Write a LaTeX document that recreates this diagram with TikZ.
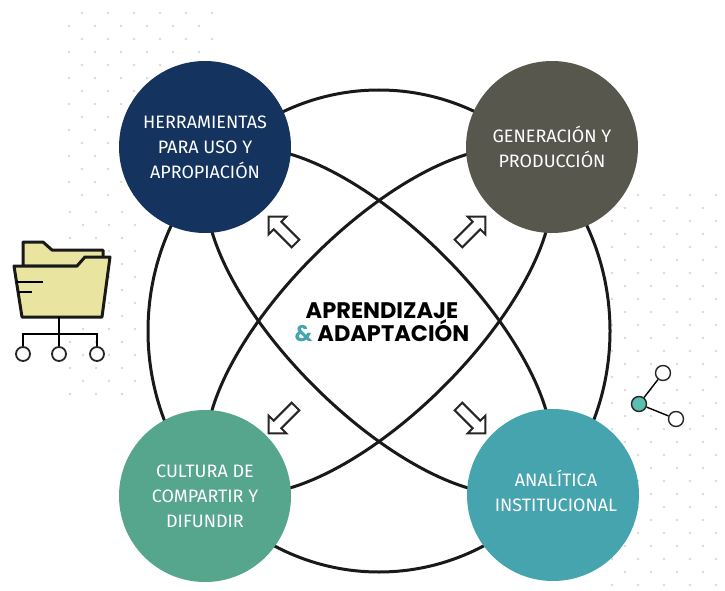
\documentclass[tikz,border=0pt]{standalone}
\usepackage{fontspec}
\setmainfont{Fira Sans}
\newfontfamily\titlefont{Poppins}
\usetikzlibrary{shapes,arrows}
\definecolor{navy}{HTML}{14335F}
\definecolor{olive}{HTML}{57574D}
\definecolor{jade}{HTML}{56A58D}
\definecolor{lagoon}{HTML}{45A4AE}
\definecolor{folderfill}{HTML}{E9E5A0}
\definecolor{hubfill}{HTML}{5ABFB0}
\definecolor{dotgray}{HTML}{D9D9D6}
\tikzset{
	area/.style={circle,minimum size=172,inner sep=0,text=white,align=center,font=\fontsize{18}{25}\selectfont},
	arealabel/.style={text=white,align=center,font=\fontsize{18}{25}\selectfont},
	ring/.style={line width=3pt,draw=black!90},
	hint/.style={single arrow,draw=black!85,fill=white,line width=2pt,minimum height=38,minimum width=25,single arrow head extend=5.5,inner sep=3.2},
	outline/.style={line width=3pt,draw=black!90,line join=round},
	leaf/.style={circle,draw=black!85,fill=white,line width=1.8pt,minimum size=14,inner sep=0},
	pin/.style={circle,draw=black!85,fill=white,line width=1.4pt,minimum size=15,inner sep=0},
	speck/.style={fill=dotgray}
}
\begin{document}
\begin{tikzpicture}[x=1pt,y=1pt]
	\useasboundingbox (0,0) rectangle (725,-591);

	% dots behind everything
	\foreach \row in {0,...,14}
		\foreach \col in {0,...,5}
			\fill[speck] ({82+\col*26+mod(\row,2)*(-13)},{-13-\row*13}) circle (1.3);
	\foreach \row in {0,...,14}
		\foreach \col in {0,...,2}
			\fill[speck] ({70+\col*26+mod(\row,2)*13},{-212-\row*13}) circle (1.3);
	\foreach \row in {0,...,30}
		\foreach \col in {0,...,4}
			\fill[speck] ({612+\col*26+mod(\row,2)*13},{-195-\row*13}) circle (1.3);

	% center point of the rings
	\coordinate (middle) at (379,-321);
	\draw[ring] (379,-331) ellipse (231 and 241);
	\draw[ring,rotate around={-45:(middle)}] (middle) ellipse (226 and 92);
	\draw[ring,rotate around={45:(middle)}] (middle) ellipse (226 and 92);

	\node[area,fill=navy] (tools) at (205,-147) {HERRAMIENTAS\\PARA USO Y\\APROPIACIÓN};
	\node[area,fill=olive] (production) at (552,-147) {GENERACIÓN Y\\PRODUCCIÓN};
	\node[area,fill=jade] (culture) at (205,-496) {CULTURA DE\\COMPARTIR Y\\DIFUNDIR};
	\node[area,fill=lagoon] (analytics) at (553,-495) {};
	\node[arealabel] (analyticslabel) at (556,-491) {ANALÍTICA\\INSTITUCIONAL};

	\node[align=center,font=\titlefont\bfseries\fontsize{22.5}{22}\selectfont] (topic) at (382,-322)
		{APRENDIZAJE\\{\color{lagoon}\&} ADAPTACIÓN};

	\node[hint,rotate=135] (hinttools) at (284,-232) {};
	\node[hint,rotate=45] (hintproduction) at (470,-232) {};
	\node[hint,rotate=225] (hintculture) at (284,-418) {};
	\node[hint,rotate=-45] (hintanalytics) at (470,-418) {};

	% folder icon
	\draw[outline,fill=folderfill] (23,-266) -- (23,-242) -- (43,-242) -- (52,-250) -- (103,-250) -- (103,-266) -- cycle;
	\draw[outline,fill=folderfill] (14,-266) -- (77,-266) -- (85,-257) -- (110,-257) -- (102,-317) -- (22,-317) -- cycle;
	\draw[line width=2.6pt] (16,-282) -- (43,-282);
	\draw[line width=2.6pt] (18,-292) -- (32,-292);

	\coordinate (stem) at (59,-317);
	\coordinate (fork) at (59,-334);
	\node[leaf] (leafa) at (23,-354) {};
	\node[leaf] (leafb) at (59,-354) {};
	\node[leaf] (leafc) at (97,-354) {};
	\draw[line width=1.8pt] (stem) -- (leafb);
	\draw[line width=1.8pt] (leafa) |- (fork) -| (leafc);

	% graph icon
	\node[pin,fill=hubfill] (hub) at (639,-404) {};
	\node[pin] (pintop) at (663,-373) {};
	\node[pin] (pinright) at (676,-419) {};
	\draw[line width=1.4pt] (hub) -- (pintop);
	\draw[line width=1.4pt] (hub) -- (pinright);
\end{tikzpicture}
\end{document}
